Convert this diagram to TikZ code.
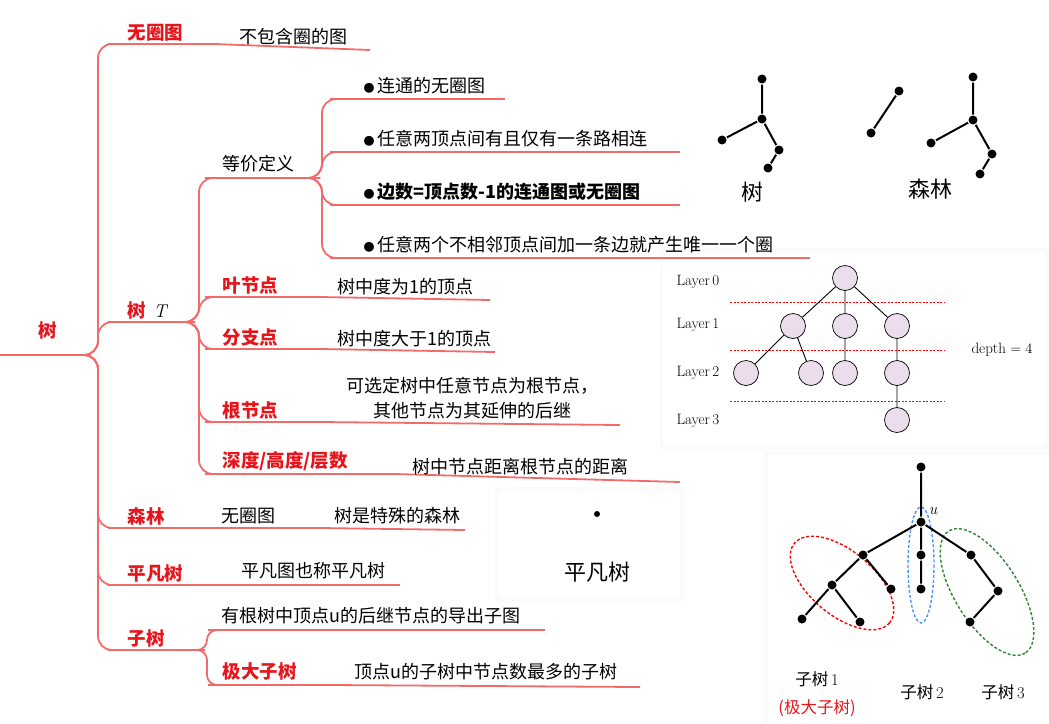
\documentclass[tikz,border=0pt]{standalone}
\usepackage{fontspec}
\setmainfont{Noto Sans CJK SC}
\newfontfamily\lmr{Latin Modern Roman}
\begin{document}
\begin{tikzpicture}[x=1pt,y=-1pt,
  br/.style={draw=brline,line width=1.8pt,rounded corners=14pt},
  ul/.style={draw=brline,line width=1.8pt},
  key/.style={anchor=south west,text=keyred,font=\bfseries\fontsize{18.5}{20}\selectfont,inner sep=2.5pt},
  txt/.style={anchor=south west,font=\fontsize{18}{20}\selectfont,inner sep=2.5pt},
  dot/.style={circle,fill=black,inner sep=0pt,minimum size=9pt},
  lnode/.style={circle,draw=black,fill=lpink,minimum size=25pt,inner sep=0pt,line width=0.7pt},
  lay/.style={font=\lmr\fontsize{15}{17}\selectfont,anchor=west},
  caplbl/.style={font=\fontsize{16.5}{18}\selectfont}]
\definecolor{brline}{HTML}{F26B6B}
\definecolor{keyred}{HTML}{E8141B}
\definecolor{lpink}{HTML}{EBDDEB}
\newcommand{\bul}{{\fontsize{11}{11}\selectfont●}\,}
\useasboundingbox (0,0) rectangle (1049,723);
% panels
\fill[gray!3] (660,248) rectangle (1049,450);
\fill[white] (665,58) rectangle (1045,213);
\fill[white] (663,252) rectangle (1045,445);
\fill[gray!3] (495,487) rectangle (684,602);
\fill[white] (499,491) rectangle (680,598);
\fill[gray!3] (764,452) rectangle (1049,723);
\fill[white] (768,456) rectangle (1049,723);
% root
\coordinate (r0) at (0,355); \coordinate (r1) at (90,355);
\node[anchor=south,font=\bfseries\fontsize{18.5}{20}\selectfont,text=keyred] (root) at (48,343) {树};
\draw[ul] (r0) -- (r1);
% level1
\foreach \n/\y/\e in {a/44/215,b/322/195,c/528/210,d/585/225,e/650/205}{
  \coordinate (\n0) at (108,\y); \coordinate (\n1) at (\e,\y);
  \draw[br] (r1) -- ++(8,0) |- (\n0); \draw[ul] (\n0) -- (\n1);}
\node[key] at (125,44) {无圈图};
\node[key] (tT) at (125,322) {树 \lmr\itshape\mdseries\textcolor{black}{\,T}};
\node[key] at (125,528) {森林};
\node[key] at (125,585) {平凡树};
\node[key] at (125,650) {子树};
% 无圈图 child
\coordinate (a2) at (370,50); \draw[ul] (a1) -- (a2);
\node[txt] at (237,48) {不包含圈的图};
% 树 T children
\foreach \n/\y/\e in {f/178/320,g/297/320,h/349/320,i/422/320,j/474/395}{
  \coordinate (\n0) at (205,\y); \coordinate (\n1) at (\e,\y);
  \draw[br] (b1) -- ++(4,0) |- (\n0); \draw[ul] (\n0) -- (\n1);}
\node[txt] at (220,175) {等价定义};
\node[key] at (220,297) {叶节点};
\node[key] at (220,349) {分支点};
\node[key] at (220,422) {根节点};
\node[key] at (220,474) {深度/高度/层数};
% 等价定义 bullets
\foreach \n/\y/\e in {p/99/505,q/152/680,s/205/680,t/258/810}{
  \coordinate (\n0) at (330,\y); \coordinate (\n1) at (\e,\y);
  \draw[br] (f1) -- ++(2,0) |- (\n0); \draw[ul] (\n0) -- (\n1);}
\node[txt] at (361,97) {\bul 连通的无圈图};
\node[txt] at (361,150) {\bul 任意两顶点间有且仅有一条路相连};
\node[txt,font=\bfseries\fontsize{18}{20}\selectfont] at (361,203) {\bul 边数=顶点数-1的连通图或无圈图};
\node[txt] at (361,256) {\bul 任意两个不相邻顶点间加一条边就产生唯一一个圈};
% leaf etc children
\draw[ul] (g1) -- (490,300); \node[txt] at (335,298) {树中度为1的顶点};
\draw[ul] (h1) -- (495,352); \node[txt] at (335,350) {树中度大于1的顶点};
\draw[ul] (i1) -- (620,425);
\node[align=center,font=\fontsize{18}{25}\selectfont,anchor=south] at (472,423) {可选定树中任意节点为根节点，\\其他节点为其延伸的后继};
\draw[ul] (j1) -- (680,482); \node[txt] at (410,478) {树中节点距离根节点的距离};
% 森林
\draw[ul] (c1) -- (320,528) -- (465,530);
\node[txt] at (219,527) {无圈图};
\node[txt] at (332,527) {树是特殊的森林};
% 平凡树
\draw[ul] (d1) -- (400,585); \node[txt] at (239,582) {平凡图也称平凡树};
% 子树
\coordinate (k0) at (208,630); \coordinate (l0) at (208,685);
\draw[br,rounded corners=10pt] (e1) -- ++(2,0) |- (k0); \draw[br,rounded corners=10pt] (e1) -- ++(2,0) |- (l0);
\draw[ul] (k0) -- (545,630); \draw[ul] (l0) -- (330,685) -- (640,687);
\node[txt] at (219,627) {有根树中顶点u的后继节点的导出子图};
\node[key] at (220,683) {极大子树};
\node[txt] at (352,683) {顶点u的子树中节点数最多的子树};
% tree / forest pictures
\begin{scope}[line width=2pt]
\node[dot] (t1) at (762,79) {}; \node[dot] (t2) at (762,119) {}; \node[dot] (t3) at (722,140) {};
\node[dot] (t4) at (779,150) {}; \node[dot] (t5) at (768,168) {};
\draw (t1)--(t2) (t2)--(t3) (t2)--(t4) (t4)--(t5);
\node[dot] (fa) at (899,91) {}; \node[dot] (fb) at (871,133) {};
\node[dot] (g1) at (973,77) {}; \node[dot] (g2) at (973,120) {}; \node[dot] (g3) at (931,143) {};
\node[dot] (g4) at (992,154) {}; \node[dot] (g5) at (980,174) {};
\draw (fa)--(fb) (g1)--(g2) (g2)--(g3) (g2)--(g4) (g4)--(g5);
\end{scope}
\node[font=\fontsize{22}{24}\selectfont] (ls) at (752,192) {树};
\node[font=\fontsize{22}{24}\selectfont] (lf) at (930,189) {森林};
% layers
\foreach \y in {302,350,401}{\draw[red,line width=0.7pt,dash pattern=on 2pt off 1.5pt] (730,\y) -- (945,\y);}
\node[lnode] (n0) at (845,278) {};
\node[lnode] (n1) at (793,326) {}; \node[lnode] (n2) at (845,326) {}; \node[lnode] (n3) at (897,326) {};
\node[lnode] (n4) at (746,373) {}; \node[lnode] (n5) at (811,373) {}; \node[lnode] (n6) at (845,373) {}; \node[lnode] (n7) at (897,373) {};
\node[lnode] (n8) at (897,420) {};
\draw[line width=0.9pt] (n0)--(n1) (n0)--(n2) (n0)--(n3) (n1)--(n4) (n1)--(n5) (n2)--(n6) (n3)--(n7) (n7)--(n8);
\node[lay] at (673,282) {Layer\,0};
\node[lay] at (673,325) {Layer\,1};
\node[lay] at (673,373) {Layer\,2};
\node[lay] at (673,421) {Layer\,3};
\node[lay] at (968,350) {depth $=4$};
% 平凡树
\node[dot,minimum size=6pt] (pv) at (597,514) {};
\node[font=\fontsize{22}{24}\selectfont] at (597,572) {平凡树};
% subtree figure
\draw[red,line width=1.4pt,dash pattern=on 3pt off 2pt,rotate around={-40:(842,583)}] (842,583) ellipse (62 and 32);
\draw[blue!60!cyan!70,line width=1.4pt,dash pattern=on 3pt off 2pt] (921,565) ellipse (13 and 58);
\draw[green!40!black!80,line width=1.4pt,dash pattern=on 3pt off 2pt,rotate around={-58:(987,592)}] (987,592) ellipse (72 and 32);
\begin{scope}[line width=2pt]
\node[dot] (s0) at (921,467) {}; \node[dot] (u) at (921,522) {};
\node[dot] (s1) at (863,555) {}; \node[dot] (s2) at (832,585) {}; \node[dot] (s3) at (891,589) {};
\node[dot] (s4) at (802,619) {}; \node[dot] (s5) at (860,622) {};
\node[dot] (s6) at (921,555) {}; \node[dot] (s7) at (921,589) {};
\node[dot] (s8) at (971,555) {}; \node[dot] (s9) at (998,591) {}; \node[dot] (s10) at (970,622) {};
\draw (s0)--(u) (u)--(s1) (s1)--(s2) (s1)--(s3) (s2)--(s4) (s2)--(s5) (u)--(s6) (s6)--(s7) (u)--(s8) (s8)--(s9) (s9)--(s10);
\end{scope}
\node[font=\lmr\itshape\fontsize{16}{18}\selectfont] at (933,511) {u};
\node[caplbl] at (817,679) {子树\lmr\,1};
\node[caplbl,text=keyred] at (817,708) {(极大子树)};
\node[caplbl] at (922,692) {子树\lmr\,2};
\node[caplbl] at (1003,692) {子树\lmr\,3};
\end{tikzpicture}
\end{document}
